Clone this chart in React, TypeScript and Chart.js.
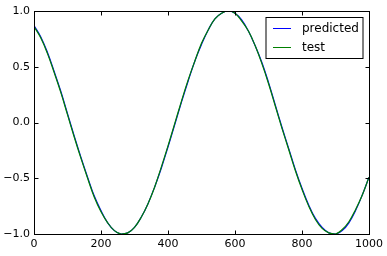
import React, { useEffect, useRef } from "react";
import { Chart, registerables } from "chart.js";

Chart.register(...registerables);

const xValues = [
  0, 20, 40, 60, 80, 100, 120, 140, 160, 180, 200, 220, 240, 260, 280, 300, 320, 340, 360, 380,
  400, 420, 440, 460, 480, 500, 520, 540, 560, 580, 600, 620, 640, 660, 680, 700, 720, 740, 760, 780,
  800, 820, 840, 860, 880, 900, 920, 940, 960, 980, 1000,
];

const predicted = [
  0.87, 0.77, 0.63, 0.46, 0.28, 0.08, -0.12, -0.31, -0.49, -0.66, -0.79, -0.9, -0.97, -1.0, -0.99,
  -0.94, -0.85, -0.73, -0.58, -0.41, -0.22, -0.02, 0.18, 0.37, 0.55, 0.7, 0.83, 0.93, 0.98, 1.0,
  0.98, 0.92, 0.82, 0.69, 0.54, 0.36, 0.16, -0.04, -0.23, -0.42, -0.59, -0.74, -0.86, -0.94, -0.99,
  -1.0, -0.97, -0.9, -0.79, -0.65, -0.49,
];

const test = [
  0.86, 0.76, 0.62, 0.45, 0.27, 0.07, -0.13, -0.32, -0.5, -0.67, -0.8, -0.9, -0.97, -1.0, -0.99,
  -0.94, -0.85, -0.73, -0.58, -0.4, -0.21, -0.01, 0.19, 0.38, 0.55, 0.71, 0.83, 0.93, 0.98, 1.0,
  0.98, 0.91, 0.82, 0.69, 0.53, 0.35, 0.15, -0.05, -0.24, -0.43, -0.6, -0.75, -0.87, -0.95, -0.99,
  -1.0, -0.96, -0.89, -0.78, -0.65, -0.49,
];

const seriesLabels = ["predicted", "test"];
const seriesColors = ["#0000ff", "#008000"];
const xTicks = [0, 200, 400, 600, 800, 1000];
const yTicks = [-1.0, -0.5, 0.0, 0.5, 1.0];

const FONT = "'DejaVu Sans', sans-serif";

const framePlugin = {
  id: "mplFrame",
  afterDatasetsDraw(chart: any) {
    const { ctx, chartArea } = chart;
    const xs = chart.scales.x;
    const ys = chart.scales.y;
    const l = Math.round(chartArea.left) + 0.5;
    const r = Math.round(chartArea.right) + 0.5;
    const t = Math.round(chartArea.top) + 0.5;
    const b = Math.round(chartArea.bottom) + 0.5;
    ctx.save();
    ctx.strokeStyle = "#000";
    ctx.lineWidth = 1;
    ctx.strokeRect(l, t, r - l, b - t);
    ctx.beginPath();
    for (const v of xTicks) {
      const px = Math.round(xs.getPixelForValue(v)) + 0.5;
      ctx.moveTo(px, b);
      ctx.lineTo(px, b - 4);
      ctx.moveTo(px, t);
      ctx.lineTo(px, t + 4);
    }
    for (const v of yTicks) {
      const py = Math.round(ys.getPixelForValue(v)) + 0.5;
      ctx.moveTo(l, py);
      ctx.lineTo(l + 4, py);
      ctx.moveTo(r, py);
      ctx.lineTo(r - 4, py);
    }
    ctx.stroke();

    // legend
    const bx = r - 103.5;
    const by = t + 6;
    const bw = 97;
    const bh = 41;
    ctx.fillStyle = "#fff";
    ctx.fillRect(bx, by, bw, bh);
    ctx.strokeRect(bx, by, bw, bh);
    ctx.font = `12px ${FONT}`;
    ctx.textBaseline = "middle";
    ctx.textAlign = "left";
    chart.data.datasets.forEach((ds: any, i: number) => {
      const yy = Math.round(by + 10 + i * 19.5) + 0.5;
      ctx.strokeStyle = ds.borderColor;
      ctx.beginPath();
      ctx.moveTo(bx + 7, yy);
      ctx.lineTo(bx + 25, yy);
      ctx.stroke();
      ctx.fillStyle = "#000";
      ctx.fillText(ds.label, bx + 36, yy);
    });
    ctx.restore();
  },
};

export default function App() {
  const ref = useRef<HTMLCanvasElement | null>(null);
  useEffect(() => {
    if (!ref.current) return;
    const chart = new Chart(ref.current, {
      type: "line",
      data: {
        datasets: [predicted, test].map((arr, i) => ({
          label: seriesLabels[i],
          data: xValues.map((x, j) => ({ x, y: arr[j] })),
          borderColor: seriesColors[i],
          backgroundColor: seriesColors[i],
          borderWidth: 1.2,
          pointRadius: 0,
          tension: 0.4,
          fill: false,
          order: 1 - i,
        })),
      },
      options: {
        animation: false,
        responsive: false,
        maintainAspectRatio: false,
        layout: { padding: { top: 11, right: 18, left: 0, bottom: 0 } },
        plugins: { legend: { display: false }, tooltip: { enabled: false } },
        scales: {
          x: {
            type: "linear",
            min: 0,
            max: 1000,
            afterBuildTicks: (s: any) => {
              s.ticks = xTicks.map((v) => ({ value: v }));
            },
            afterFit: (s: any) => {
              s.height = 22;
            },
            grid: { display: false, drawTicks: false },
            border: { display: false },
            ticks: {
              color: "#000",
              font: { family: FONT, size: 11 },
              padding: 4,
              maxRotation: 0,
              callback: (v: any) => String(v),
            },
          },
          y: {
            type: "linear",
            min: -1,
            max: 1,
            afterBuildTicks: (s: any) => {
              s.ticks = yTicks.map((v) => ({ value: v }));
            },
            afterFit: (s: any) => {
              s.width = 34;
            },
            grid: { display: false, drawTicks: false },
            border: { display: false },
            ticks: {
              color: "#000",
              font: { family: FONT, size: 11 },
              padding: 4,
              callback: (v: any) => Number(v).toFixed(1).replace("-", "\u2212"),
            },
          },
        },
      },
      plugins: [framePlugin],
    });
    return () => chart.destroy();
  }, []);
  return (
    <div style={{ position: "absolute", left: 0, top: 0, width: 387, height: 256, background: "#fff" }}>
      <canvas ref={ref} width={387} height={256} />
    </div>
  );
}
